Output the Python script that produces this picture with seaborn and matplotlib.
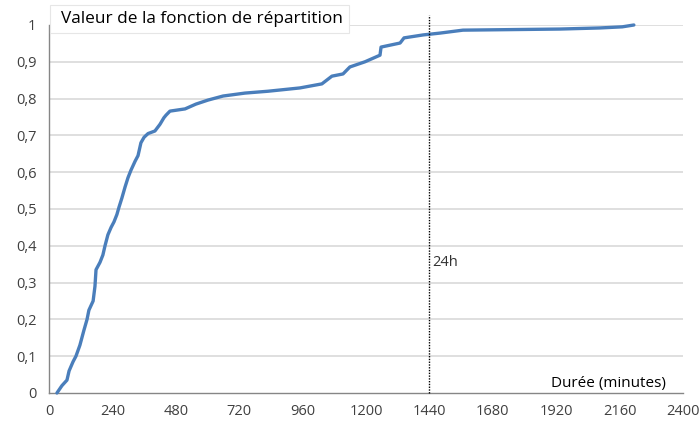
import matplotlib
matplotlib.use("Agg")
import matplotlib.pyplot as plt
import matplotlib.ticker as mticker
from matplotlib.patches import Rectangle
import seaborn as sns
import pandas as pd

duree_minutes = [30, 49, 68, 76, 91, 102, 117, 132, 144, 151, 167, 174, 178, 193, 204,
                 212, 223, 235, 246, 257, 265, 276, 288, 299, 310, 326, 337, 348, 360,
                 375, 401, 420, 435, 443, 458, 515, 556, 602, 659, 742, 829, 950, 1033,
                 1071, 1113, 1139, 1196, 1253, 1257, 1329, 1344, 1416, 1480, 1567, 1934,
                 2086, 2170, 2214]
repartition = [0.0, 0.02, 0.035, 0.06, 0.085, 0.10, 0.13, 0.17, 0.20, 0.225, 0.25, 0.29,
               0.335, 0.355, 0.375, 0.40, 0.43, 0.45, 0.465, 0.485, 0.505, 0.53, 0.56,
               0.585, 0.605, 0.63, 0.645, 0.68, 0.695, 0.705, 0.712, 0.73, 0.748, 0.755,
               0.766, 0.772, 0.785, 0.796, 0.807, 0.815, 0.82, 0.829, 0.84, 0.861, 0.867,
               0.886, 0.90, 0.918, 0.94, 0.951, 0.965, 0.973, 0.978, 0.986, 0.989, 0.992,
               0.995, 1.0]
x_ticks = list(range(0, 2401, 240))
y_ticks = [i / 10 for i in range(11)]
seuil_24h = 1440

df = pd.DataFrame({"duree": duree_minutes, "F": repartition})

sns.set_style("white")
plt.rcParams["font.family"] = ["Open Sans", "DejaVu Sans"]

W, H = 699, 425
fig = plt.figure(figsize=(W / 100, H / 100), dpi=100)
ax = fig.add_axes([49 / W, 1 - 393 / H, (683 - 49) / W, (393 - 25) / H])

grid_c = "#d9d9d9"
axis_c = "#868686"
for yv in y_ticks[1:]:
    ax.axhline(yv, color=grid_c, lw=1.2, zorder=0)

sns.lineplot(data=df, x="duree", y="F", ax=ax, color="#4a7ebb", lw=2.4,
             solid_joinstyle="round", solid_capstyle="round", zorder=3)
for l in ax.lines[-1:]:
    l.set_clip_on(False)

ax.axvline(seuil_24h, ymin=0, ymax=1.027, color="black", lw=1, ls=(0, (1, 1)),
           clip_on=False, zorder=4)

ax.set_xlim(0, 2400)
ax.set_ylim(0, 1)
ax.set_xticks(x_ticks)
ax.set_yticks(y_ticks)
ax.yaxis.set_major_formatter(mticker.FuncFormatter(
    lambda v, p: "0" if v == 0 else ("1" if v == 1 else f"{v:.1f}".replace(".", ","))))
ax.set_xlabel("")
ax.set_ylabel("")
for s in ["top", "right"]:
    ax.spines[s].set_visible(False)
for s in ["left", "bottom"]:
    ax.spines[s].set_color(axis_c)
    ax.spines[s].set_linewidth(1)
ax.tick_params(axis="both", direction="out", length=4, width=1, color=axis_c,
               labelsize=10.5, labelcolor="#404040", pad=4)
ax.tick_params(axis="y", pad=5)

# title box
fig.add_artist(Rectangle((50 / W, 1 - 33 / H), (349 - 50) / W, 28 / H,
                         transform=fig.transFigure, fc="white", ec="#e6e6e6", lw=0.8,
                         zorder=5))
fig.text(61 / W, 1 - 19 / H, "Valeur de la fonction de répartition", fontsize=12.4,
         color="black", va="center", ha="left", zorder=6)
fig.text(551 / W, 1 - 383 / H, "Durée (minutes)", fontsize=11, color="black",
         va="center", ha="left")
ax.text(seuil_24h + 10, 0.355, "24h", fontsize=10.5, color="#333333", va="center", ha="left")

fig.savefig("out.png", dpi=100)
